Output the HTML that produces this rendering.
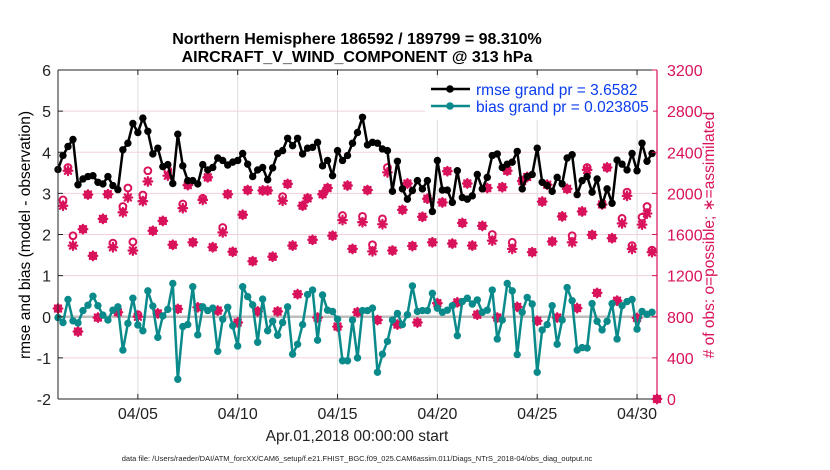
<!DOCTYPE html>
<html><head><meta charset="utf-8"><style>
html,body{margin:0;padding:0;background:#fff;width:830px;height:470px;overflow:hidden}
svg text{font-family:"Liberation Sans",Arial,sans-serif}
</style></head><body>
<svg id="chart" width="830" height="470" viewBox="0 0 830 470" xmlns="http://www.w3.org/2000/svg">
<text x="357" y="44" text-anchor="middle" font-size="16" font-weight="bold">Northern Hemisphere 186592 / 189799 = 98.310%</text>
<text x="357" y="62" text-anchor="middle" font-size="16" font-weight="bold">AIRCRAFT_V_WIND_COMPONENT @ 313 hPa</text>
<g id="grid"></g>
<g id="series"></g>
<g id="axes"></g>
<text transform="translate(30,235) rotate(-90)" text-anchor="middle" font-size="15.5">rmse and bias (model - observation)</text>
<text transform="translate(714,235) rotate(-90)" text-anchor="middle" font-size="15.5" fill="#d8125b"># of obs: o=possible; ∗=assimilated</text>
<text x="357" y="441" text-anchor="middle" font-size="15.5" fill="#222">Apr.01,2018 00:00:00 start</text>
<text x="357" y="461" text-anchor="middle" font-size="7.5" fill="#222">data file: /Users/raeder/DAI/ATM_forcXX/CAM6_setup/f.e21.FHIST_BGC.f09_025.CAM6assim.011/Diags_NTrS_2018-04/obs_diag_output.nc</text>
<g>
<rect x="425" y="78" width="228" height="42" fill="#fff"/>
<g>
<line x1="431" y1="89" x2="470" y2="89" stroke="#000" stroke-width="2.5"/><circle cx="450" cy="89" r="3.8" fill="#000"/>
<text x="476" y="95" font-size="15.5" fill="#0a3cf0">rmse grand pr = 3.6582</text></g>
<g>
<line x1="431" y1="106" x2="470" y2="106" stroke="#0a8a8a" stroke-width="2.5"/><circle cx="450" cy="106" r="3.8" fill="#0a8a8a"/>
<text x="476" y="112" font-size="15.5" fill="#0a3cf0">bias grand pr = 0.023805</text></g>
</g>
</svg>
<script>
const rmse=[3.58,3.92,4.14,4.31,3.21,3.35,3.41,3.43,3.27,3.23,3.41,3.19,3.09,4.06,4.22,4.70,4.48,4.83,4.51,3.96,4.10,3.65,3.70,3.24,4.44,3.67,3.31,3.31,3.23,3.70,3.57,
3.63,3.86,3.80,3.69,3.76,3.80,3.97,3.71,3.41,3.57,3.63,3.33,3.62,3.97,4.04,4.34,4.16,4.34,3.96,4.10,4.12,4.24,3.67,3.80,3.43,4.04,3.80,3.92,4.22,4.48,
4.85,4.18,4.24,4.22,4.08,4.04,3.05,3.78,3.11,2.86,3.07,3.31,3.11,3.31,2.56,3.80,3.08,3.08,2.78,3.55,2.90,2.86,2.94,3.46,3.11,3.39,3.92,3.96,3.63,3.71,
3.76,4.02,3.11,3.41,3.46,4.10,3.27,3.19,3.05,3.39,3.23,3.86,3.94,2.97,3.31,3.41,3.03,3.35,2.72,3.11,2.76,3.81,3.71,3.57,3.97,3.55,4.22,3.78,3.97];
const bias=[-0.02,-0.14,0.42,-0.1,-0.15,0.15,0.28,0.5,0.27,0.04,-0.08,0.16,0.24,-0.81,-0.16,0.45,-0.2,-0.34,0.63,0.26,-0.5,0.02,0.18,0.81,-1.52,-0.24,-0.19,0.73,-0.44,0.24,0.15,
0.21,-0.84,-0.06,0.23,-0.22,-0.71,0.73,0.49,0.29,-0.62,0.43,-0.34,-0.11,-0.45,-0.14,0.24,-0.91,-0.67,-0.19,0.54,0.65,-0.57,0.53,0.16,0.13,-0.06,-1.07,-1.07,-0.08,-1.0,
0.15,0.15,0.21,-1.35,-0.91,-0.6,-0.08,0.08,-0.19,0.05,0.75,0.13,0.15,0.15,0.57,0.21,0.11,0.16,0.27,-0.46,0.37,0.45,0.31,0.41,0.11,0.16,0.65,-0.54,-0.08,0.81,
0.63,-0.92,0.11,0.47,0.31,-1.35,-0.32,-0.19,0.27,-0.67,-0.08,0.71,0.39,-0.81,-0.75,-0.76,0.32,-0.11,-0.32,-0.11,0.32,-0.54,0.27,0.37,0.42,-0.3,0.13,0.06,0.11];
const possible=[880,1936,2252,1588,656,1652,1988,1392,792,1752,1992,1516,844,1872,2052,1528,820,1984,2220,1636,832,1732,2228,1500,876,1896,2080,1524,892,1952,2156,
1476,860,1668,1992,1432,744,1792,2032,1340,852,2028,2028,1384,852,1968,2092,1492,1020,1880,1952,1548,792,1992,2052,1588,704,1784,2076,1460,844,
1776,2032,1500,768,1752,2252,1444,724,1840,2096,1488,744,1772,1948,1524,932,1912,2216,1512,940,1712,2096,1492,820,1684,2052,1600,792,2060,2220,
1524,896,2120,2160,1428,760,1920,2084,1532,792,1776,2044,1588,884,1824,2252,1596,1032,1892,2252,1564,956,1756,2012,1492,788,1768,1872,1448,0];
const assimilated=[880,1880,2220,1492,656,1652,1988,1392,792,1752,1992,1476,844,1816,1960,1444,800,1924,2116,1636,832,1732,2172,1500,876,1856,2080,1524,892,1936,2156,
1476,860,1620,1992,1432,744,1792,2032,1340,852,2028,2028,1384,852,1928,2092,1492,1020,1880,1952,1548,792,1992,2052,1588,704,1740,2076,1460,844,
1720,2032,1436,768,1700,2204,1444,724,1840,2096,1488,744,1772,1948,1524,932,1912,2216,1512,940,1712,2096,1492,820,1684,2052,1540,792,2060,2220,
1460,896,2120,2160,1428,760,1920,2084,1532,792,1776,2044,1524,884,1824,2228,1596,1032,1892,2252,1564,956,1708,1976,1460,788,1696,1804,1428,0];
const xTickLabels=["04/05","04/10","04/15","04/20","04/25","04/30"];
const xTickDays=[4,9,14,19,24,29];
const yTicksLeft=[-2,-1,0,1,2,3,4,5,6];
const yTicksRight=[0,400,800,1200,1600,2000,2400,2800,3200];

const L=58,R=657,T=70,B=399;
const NS="http://www.w3.org/2000/svg";
const MAG="#d8125b",TEAL="#0a8a8a";
function xDay(d){return L+(R-L)*d/30;}
function xIdx(i){return xDay(i*0.25);}
function yL(v){return B-(B-T)*(v+2)/8;}
function yR(c){return B-(B-T)*c/3200;}
function mk(tag,attrs,parent){const e=document.createElementNS(NS,tag);for(const k in attrs)e.setAttribute(k,attrs[k]);parent.appendChild(e);return e;}
const grid=document.getElementById('grid'),ser=document.getElementById('series'),ax=document.getElementById('axes');

yTicksLeft.forEach(v=>{
  if(v===-2||v===6)return;
  const g=mk('line',{x1:L,x2:R,y1:yL(v),y2:yL(v),stroke:'#f2d0dd','stroke-width':1},grid);
  
  
});
xTickDays.forEach(d=>{
  const g=mk('line',{x1:xDay(d),x2:xDay(d),y1:T,y2:B,stroke:'#dcdcdc','stroke-width':1},grid);
  
  
});
const z=mk('line',{x1:L,x2:R,y1:yL(0),y2:yL(0),stroke:'#bdbdbd','stroke-width':2.5},grid);



function star(x,y,parent){
  const g=mk('g',{stroke:MAG,'stroke-width':2.3,'stroke-linecap':'round'},parent);
  
  
  const r=4.3;
  [[r,0],[0,r],[r*0.72,r*0.72],[r*0.72,-r*0.72]].forEach(([dx,dy])=>mk('line',{x1:x-dx,y1:y-dy,x2:x+dx,y2:y+dy},g));
  mk('circle',{cx:x,cy:y,r:2,fill:MAG,stroke:'none'},g);
}
possible.forEach((c,i)=>{
  const p=mk('circle',{cx:xIdx(i),cy:yR(c),r:3.4,fill:'none',stroke:MAG,'stroke-width':2},ser);
  
  
});
assimilated.forEach((c,i)=>star(xIdx(i),yR(c),ser));

function line(vals,color,name){
  const pts=vals.map((v,i)=>xIdx(i).toFixed(1)+','+yL(v).toFixed(1)).join(' ');
  const pl=mk('polyline',{points:pts,fill:'none',stroke:color,'stroke-width':2.5,'stroke-linejoin':'round'},ser);
  
  
  vals.forEach((v,i)=>{
    const c=mk('circle',{cx:xIdx(i),cy:yL(v),r:3.7,fill:color},ser);
    
    
  });
}
line(bias,TEAL,'bias');
line(rmse,'#000','rmse');

mk('line',{x1:L,x2:R,y1:T,y2:T,stroke:'#222','stroke-width':1},ax);
mk('line',{x1:L,x2:L,y1:T,y2:B,stroke:'#222','stroke-width':1},ax);
mk('line',{x1:L,x2:R,y1:B,y2:B,stroke:'#222','stroke-width':1},ax);
mk('line',{x1:R,x2:R,y1:T,y2:B,stroke:MAG,'stroke-width':1.2},ax);
yTicksLeft.forEach(v=>{
  mk('line',{x1:L,x2:L+5,y1:yL(v),y2:yL(v),stroke:'#222'},ax);
  const t=mk('text',{x:L-7,y:yL(v)+6,'text-anchor':'end','font-size':16,fill:'#222'},ax);
  t.textContent=v;
  
  
});
yTicksRight.forEach(c=>{
  mk('line',{x1:R-5,x2:R,y1:yR(c),y2:yR(c),stroke:MAG},ax);
  const t=mk('text',{x:R+10,y:yR(c)+6,'text-anchor':'start','font-size':16,fill:MAG},ax);
  t.textContent=c;
  
  
});
xTickDays.forEach((d,k)=>{
  mk('line',{x1:xDay(d),x2:xDay(d),y1:B,y2:B-5,stroke:'#222'},ax);
  mk('line',{x1:xDay(d),x2:xDay(d),y1:T,y2:T+5,stroke:'#222'},ax);
  const t=mk('text',{x:xDay(d),y:B+20,'text-anchor':'middle','font-size':16,fill:'#222'},ax);
  t.textContent=xTickLabels[k];
  
  
});
</script>
</body></html>
